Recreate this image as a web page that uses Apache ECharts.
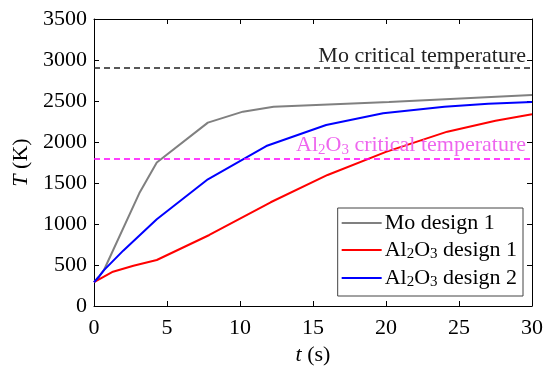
<!DOCTYPE html>
<html>
<head>
<meta charset="utf-8">
<script src="https://cdn.jsdelivr.net/npm/echarts@6/dist/echarts.min.js"></script>
<style>html,body{margin:0;padding:0;background:#fff}#c{width:546px;height:371px}</style>
</head>
<body>
<div id="c"></div>
<script>
// ---- data ----
const moTime = [0, 0.35, 0.7, 3.1, 4.3, 7.8, 10.2, 12.3, 20.2, 30];
const moTemp = [290, 360, 445, 1374, 1750, 2236, 2370, 2430, 2488, 2573];
const al1Time = [0, 0.5, 1.3, 2.7, 4.3, 7.9, 12.1, 16.0, 20.0, 24.2, 27.5, 30];
const al1Temp = [290, 340, 418, 491, 561, 866, 1265, 1598, 1880, 2126, 2260, 2338];
const al2Time = [0, 0.35, 0.7, 2.0, 4.3, 7.8, 11.8, 15.9, 19.8, 24, 27, 30];
const al2Temp = [290, 360, 440, 675, 1057, 1545, 1951, 2207, 2350, 2430, 2465, 2488];
const moCritical = 2900;
const alCritical = 1800;
const seriesNames = ['Mo design 1', 'Al2O3 design 1', 'Al2O3 design 2'];
const xTicks = {min: 0, max: 30, interval: 5};
const yTicks = {min: 0, max: 3500, interval: 500};

const pairs = (xs, ys) => xs.map((x, i) => [x, ys[i]]);
const FONT = 'Liberation Serif';
const sub = {fontSize: 15, fontFamily: FONT, padding: [9, 0, 0, 0]};
const fmtName = n => n.replace('Al2O3', 'Al{sub|2}O{sub|3}');

const chart = echarts.init(document.getElementById('c'), null, {renderer: 'canvas'});
const axisCommon = () => ({
  axisLine: {show: true, onZero: false, lineStyle: {color: '#000', width: 1}},
  axisTick: {show: true, inside: true, length: 5, lineStyle: {color: '#000'}},
  splitLine: {show: false}
});
chart.setOption({
  animation: false,
  backgroundColor: '#fff',
  grid: {left: 94, right: 13, top: 19, bottom: 65},
  xAxis: [
    Object.assign({type: 'value', position: 'bottom', min: xTicks.min, max: xTicks.max, interval: xTicks.interval,
      name: '{i|t} (s)', nameLocation: 'middle', nameGap: 37,
      nameTextStyle: {fontFamily: FONT, fontSize: 22, color: '#000', rich: {i: {fontStyle: 'italic', fontFamily: FONT, fontSize: 22}}},
      axisLabel: {fontFamily: FONT, fontSize: 22, color: '#000', margin: 11, formatter: v => String(v)}}, axisCommon()),
    Object.assign({type: 'value', position: 'top', min: xTicks.min, max: xTicks.max, interval: xTicks.interval,
      axisLabel: {show: false}}, axisCommon())
  ],
  yAxis: [
    Object.assign({type: 'value', position: 'left', min: yTicks.min, max: yTicks.max, interval: yTicks.interval,
      name: '{i|T} (K)', nameLocation: 'middle', nameGap: 62,
      nameTextStyle: {fontFamily: FONT, fontSize: 22, color: '#000', rich: {i: {fontStyle: 'italic', fontFamily: FONT, fontSize: 22}}},
      axisLabel: {fontFamily: FONT, fontSize: 22, color: '#000', margin: 7, formatter: v => String(v)}}, axisCommon()),
    Object.assign({type: 'value', position: 'right', min: yTicks.min, max: yTicks.max, interval: yTicks.interval,
      axisLabel: {show: false}}, axisCommon())
  ],
  legend: {
    data: seriesNames,
    orient: 'vertical',
    right: 23, top: 208,
    icon: 'rect',
    itemWidth: 40, itemHeight: 2, itemGap: 5,
    padding: [4, 6, 6, 4],
    borderColor: '#444', borderWidth: 1, backgroundColor: '#fff',
    formatter: fmtName,
    textStyle: {fontFamily: FONT, fontSize: 22, color: '#000', lineHeight: 22, padding: [0, 0, 0, -2],
      rich: {sub: sub}}
  },
  series: [
    {name: seriesNames[0], type: 'line', data: pairs(moTime, moTemp), symbol: 'none',
      lineStyle: {color: '#808080', width: 2}, itemStyle: {color: '#808080'}, z: 3,
      markLine: {silent: true, symbol: 'none', data: [{yAxis: moCritical}],
        lineStyle: {type: [6, 4], color: '#222', width: 1.5},
        label: {show: true, position: 'insideEndTop', formatter: 'Mo critical temperature',
          fontFamily: FONT, fontSize: 22, color: '#222', distance: [6, 1]}}},
    {name: seriesNames[1], type: 'line', data: pairs(al1Time, al1Temp), symbol: 'none',
      lineStyle: {color: '#ff0000', width: 2}, itemStyle: {color: '#ff0000'}, z: 3,
      markLine: {silent: true, symbol: 'none', data: [{yAxis: alCritical}],
        lineStyle: {type: [6, 4], color: '#ff00ff', width: 1.5},
        label: {show: true, position: 'insideEndTop', formatter: 'Al{sub|2}O{sub|3} critical temperature',
          fontFamily: FONT, fontSize: 22, color: '#ee66ee', distance: [6, 1],
          rich: {sub: Object.assign({}, sub, {color: '#ee66ee'})}}}},
    {name: seriesNames[2], type: 'line', data: pairs(al2Time, al2Temp), symbol: 'none',
      lineStyle: {color: '#0000ff', width: 2}, itemStyle: {color: '#0000ff'}, z: 3}
  ]
});
</script>
</body>
</html>
